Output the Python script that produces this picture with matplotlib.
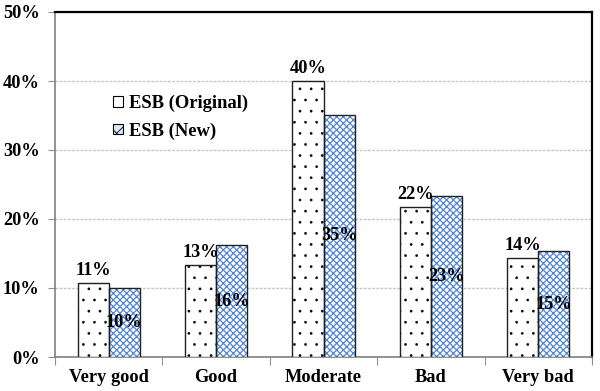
import matplotlib
matplotlib.use("Agg")
import matplotlib.pyplot as plt
import numpy as np
from matplotlib.ticker import FuncFormatter
from matplotlib.patches import Patch

categories = ["Very good", "Good", "Moderate", "Bad", "Very bad"]
original = [10.7, 13.3, 40.0, 21.7, 14.3]
new = [10.0, 16.2, 35.1, 23.4, 15.3]
orig_labels = ["11%", "13%", "40%", "22%", "14%"]
new_labels = ["10%", "16%", "35%", "23%", "15%"]
series_names = ["ESB (Original)", "ESB (New)"]

plt.rcParams['font.family'] = ['Liberation Serif', 'DejaVu Serif']
plt.rcParams['font.weight'] = 'bold'

fig = plt.figure(figsize=(3.0, 1.955), dpi=200)
ax = fig.add_axes([55/600, 1-357/391, (592-55)/600, (357-12)/391])

x = np.arange(len(categories))
w = 0.29
blue = '#5286d6'

plt.rcParams['hatch.linewidth'] = 0.15
ax.bar(x - w/2, original, w, facecolor='white', edgecolor='black',
       hatch='...', linewidth=0, zorder=3)
plt.rcParams['hatch.linewidth'] = 0.45
ax.bar(x + w/2, new, w, facecolor='white', edgecolor=blue,
       hatch='x' * 10, linewidth=0, zorder=3)
ax.bar(x - w/2, original, w, fill=False, edgecolor='#202020', linewidth=0.5, zorder=4)
ax.bar(x + w/2, new, w, fill=False, edgecolor='#202020', linewidth=0.5, zorder=4)

for xi, v, lab in zip(x, original, orig_labels):
    ax.text(xi - w/2, v + 0.6, lab, ha='center', va='bottom', fontsize=6.6,
            fontweight='bold', zorder=5)
for xi, v, lab in zip(x, new, new_labels):
    ax.text(xi + w/2, v/2, lab, ha='center', va='center', fontsize=6.6,
            fontweight='bold', zorder=5)

ax.set_xlim(-0.5, len(categories) - 0.5)
ax.set_ylim(0, 50)
ax.set_yticks(np.arange(0, 51, 10))
ax.yaxis.set_major_formatter(FuncFormatter(lambda v, p: f"{int(v)}%"))
ax.yaxis.grid(True, color='#c8c8c8', linestyle=(0, (2, 1)), linewidth=0.5, zorder=0)
ax.set_axisbelow(True)

ax.set_xticks(np.arange(-0.5, len(categories), 1.0))
ax.set_xticklabels([])
ax.set_xticks(x, minor=True)
ax.set_xticklabels(categories, minor=True)
ax.tick_params(axis='x', which='minor', length=0, pad=4.5, labelsize=6.6)
ax.tick_params(axis='x', which='major', length=3, width=0.4, color='#909090', direction='out')
ax.tick_params(axis='y', length=2.5, width=0.4, color='#909090', direction='out', labelsize=6.6, pad=3)
for lab in ax.get_xticklabels(minor=True) + ax.get_yticklabels():
    lab.set_fontweight('bold')

ax.spines['left'].set_color('#808080')
ax.spines['bottom'].set_color('#808080')
ax.spines['left'].set_linewidth(0.6)
ax.spines['bottom'].set_linewidth(0.6)
ax.spines['top'].set_color('black')
ax.spines['right'].set_color('black')
ax.spines['top'].set_linewidth(0.8)
ax.spines['right'].set_linewidth(0.8)

plt.rcParams['hatch.linewidth'] = 0.3
handles = [Patch(facecolor='white', edgecolor='black', linewidth=0.4, label=series_names[0]),
           Patch(facecolor='#dbe6f7', edgecolor=blue, hatch='xxxx', linewidth=0.4, label=series_names[1])]
leg = ax.legend(handles=handles, loc='upper left', bbox_to_anchor=(96/600, 1-78/391),
                bbox_transform=fig.transFigure, frameon=False,
                handlelength=0.55, handleheight=0.5, handletextpad=0.3,
                labelspacing=0.55, prop={'family': 'Liberation Serif', 'weight': 'bold', 'size': 6.7})
for h in leg.legend_handles:
    h.set_edgecolor('black')

fig.savefig("out.png", dpi=200)
